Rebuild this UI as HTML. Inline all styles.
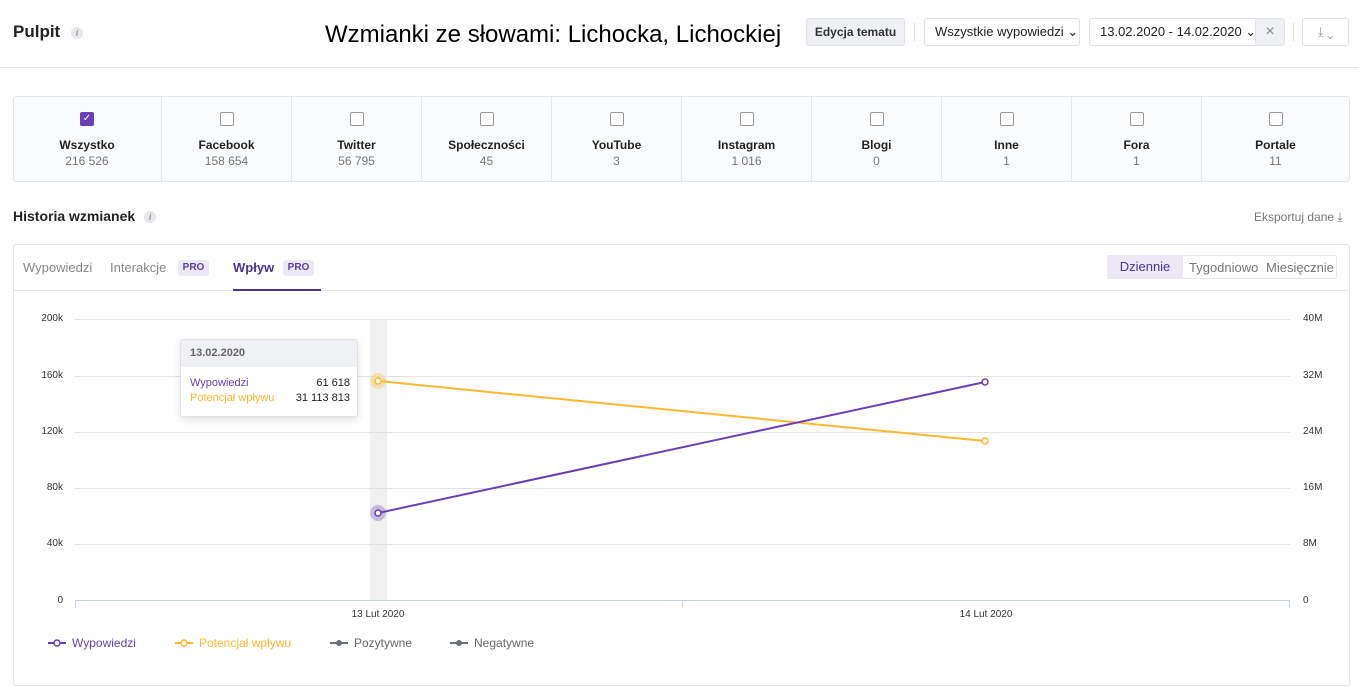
<!DOCTYPE html>
<html><head><meta charset="utf-8"><style>
body{margin:0;width:1359px;height:699px;background:#fff;font-family:"Liberation Sans",sans-serif;position:relative;overflow:hidden;color:#222}
.a{position:absolute}
.btn{position:absolute;border:1px solid #dde0e6;border-radius:3px;font-size:13px;line-height:26px;box-sizing:border-box;height:28px}
.cell{position:absolute;top:97px;height:84px;border-left:1px solid #e3e6ec;text-align:center;box-sizing:border-box}
.cell .cb{width:12px;height:12px;border:1px solid #999;border-radius:2px;margin:15px auto 0;background:#fff}
.cell .t{font-size:12px;font-weight:bold;margin-top:12px;color:#222}
.cell .n{font-size:12px;color:#777;margin-top:2px}
.yl{position:absolute;font-size:10px;color:#333}
.yr{position:absolute;font-size:10px;color:#333;width:30px;text-align:right}
.info{display:inline-block;width:12px;height:12px;border-radius:50%;background:#e6e8ec;color:#999;font-size:9px;text-align:center;line-height:12px;font-style:italic;vertical-align:middle}
</style></head><body>
<div class="a" style="left:13px;top:22px;font-size:17px;font-weight:bold">Pulpit <span class="info" style="margin-left:6px">i</span></div>
<div class="a" style="left:325px;top:21px;font-size:24px;color:#000">Wzmianki ze słowami: Lichocka, Lichockiej</div>
<div class="btn" style="left:806px;top:18px;width:99px;background:#eef0f3;text-align:center;font-weight:bold;color:#333;font-size:12px">Edycja tematu</div>
<div class="a" style="left:914px;top:23px;width:1px;height:18px;background:#ddd"></div>
<div class="btn" style="left:924px;top:18px;width:156px;padding-left:10px;color:#222">Wszystkie wypowiedzi ⌄</div>
<div class="btn" style="left:1089px;top:18px;width:196px;padding-left:10px;color:#222">13.02.2020 - 14.02.2020 ⌄</div>
<div class="btn" style="left:1255px;top:18px;width:30px;background:#eef0f3;text-align:center;color:#888;font-size:16px">×</div>
<div class="a" style="left:1293px;top:23px;width:1px;height:18px;background:#ddd"></div>
<div class="btn" style="left:1302px;top:18px;width:47px;text-align:center;color:#999">⤓ ⌄</div>
<div class="a" style="left:0;top:67px;width:1359px;height:1px;background:#e3e6ec"></div>

<div class="a" style="left:13px;top:96px;width:1335px;height:84px;border:1px solid #e3e6ec;border-radius:3px;background:#fafbfc"></div>
<div class="cell" style="left:13px;width:148px;border-left:none"><div class="cb" style="background:#6a3fb5;border-color:#6a3fb5;color:#fff;font-size:10px;line-height:12px">✓</div><div class="t">Wszystko</div><div class="n">216 526</div></div>
<div class="cell" style="left:161px;width:130px"><div class="cb"></div><div class="t">Facebook</div><div class="n">158 654</div></div>
<div class="cell" style="left:291px;width:130px"><div class="cb"></div><div class="t">Twitter</div><div class="n">56 795</div></div>
<div class="cell" style="left:421px;width:130px"><div class="cb"></div><div class="t">Społeczności</div><div class="n">45</div></div>
<div class="cell" style="left:551px;width:130px"><div class="cb"></div><div class="t">YouTube</div><div class="n">3</div></div>
<div class="cell" style="left:681px;width:130px"><div class="cb"></div><div class="t">Instagram</div><div class="n">1 016</div></div>
<div class="cell" style="left:811px;width:130px"><div class="cb"></div><div class="t">Blogi</div><div class="n">0</div></div>
<div class="cell" style="left:941px;width:130px"><div class="cb"></div><div class="t">Inne</div><div class="n">1</div></div>
<div class="cell" style="left:1071px;width:130px"><div class="cb"></div><div class="t">Fora</div><div class="n">1</div></div>
<div class="cell" style="left:1201px;width:148px"><div class="cb"></div><div class="t">Portale</div><div class="n">11</div></div>

<div class="a" style="left:13px;top:208px;font-size:14px;font-weight:bold">Historia wzmianek <span class="info" style="margin-left:5px">i</span></div>
<div class="a" style="left:1254px;top:210px;font-size:12px;color:#777">Eksportuj dane ⤓</div>

<div class="a" style="left:13px;top:244px;width:1335px;height:440px;border:1px solid #e3e6ec;border-radius:3px"></div>
<div class="a" style="left:14px;top:290px;width:1334px;height:1px;background:#e3e6ec"></div>
<div class="a" style="left:23px;top:260px;font-size:13px;color:#888">Wypowiedzi</div>
<div class="a" style="left:110px;top:260px;font-size:13px;color:#888">Interakcje</div>
<div class="a" style="left:178px;top:260px;width:31px;height:16px;background:#ece8f6;border-radius:3px;font-size:10px;font-weight:bold;color:#5b3fa0;text-align:center;line-height:16px">PRO</div>
<div class="a" style="left:233px;top:260px;font-size:13px;color:#4a3490;font-weight:bold">Wpływ</div>
<div class="a" style="left:283px;top:260px;width:31px;height:16px;background:#ece8f6;border-radius:3px;font-size:10px;font-weight:bold;color:#5b3fa0;text-align:center;line-height:16px">PRO</div>
<div class="a" style="left:233px;top:289px;width:88px;height:2px;background:#4a3490"></div>
<div class="a" style="left:1107px;top:255px;width:230px;height:24px;border:1px solid #e3e6ec;border-radius:3px;box-sizing:border-box"></div>
<div class="a" style="left:1107px;top:255px;width:76px;height:24px;background:#ece8f6;font-size:13px;color:#4a3490;text-align:center;line-height:24px">Dziennie</div>
<div class="a" style="left:1189px;top:260px;font-size:13px;color:#777">Tygodniowo</div>
<div class="a" style="left:1266px;top:260px;font-size:13px;color:#777">Miesięcznie</div>

<svg class="a" style="left:0;top:0" width="1359" height="699">
<rect x="370" y="319" width="17" height="282" fill="#f0f0f0"/>
<g stroke="#e2e2e2" stroke-width="1">
<line x1="75" y1="319.5" x2="1290" y2="319.5"/><line x1="75" y1="376.5" x2="1290" y2="376.5"/><line x1="75" y1="432.5" x2="1290" y2="432.5"/><line x1="75" y1="488.5" x2="1290" y2="488.5"/><line x1="75" y1="544.5" x2="1290" y2="544.5"/>
</g>
<line x1="75" y1="600.5" x2="1290" y2="600.5" stroke="#c8d3e6"/>
<line x1="75.5" y1="600" x2="75.5" y2="608" stroke="#c8d3e6"/><line x1="682.5" y1="600" x2="682.5" y2="608" stroke="#c8d3e6"/><line x1="1289.5" y1="600" x2="1289.5" y2="608" stroke="#c8d3e6"/>
<polyline points="378,381 985,441" fill="none" stroke="#fbb830" stroke-width="2"/>
<polyline points="378,513 985,382" fill="none" stroke="#6a3fb5" stroke-width="2"/>
<circle cx="378" cy="381" r="8" fill="#fbb830" opacity="0.3"/>
<circle cx="378" cy="513" r="8" fill="#6a3fb5" opacity="0.3"/>
<circle cx="378" cy="381" r="3" fill="#fff" stroke="#fbb830" stroke-width="1.5"/>
<circle cx="378" cy="513" r="3" fill="#fff" stroke="#6a3fb5" stroke-width="1.5"/>
<circle cx="985" cy="441" r="3" fill="#fff" stroke="#fbb830" stroke-width="1.5"/>
<circle cx="985" cy="382" r="3" fill="#fff" stroke="#6a3fb5" stroke-width="1.5"/>
<g font-family="Liberation Sans" font-size="10" fill="#333">
<text x="378" y="617" text-anchor="middle">13 Lut 2020</text><text x="986" y="617" text-anchor="middle">14 Lut 2020</text>
</g>
<g font-family="Liberation Sans" font-size="12">
<line x1="48" y1="643" x2="66" y2="643" stroke="#6a3fb5" stroke-width="2"/><circle cx="57" cy="643" r="3" fill="#fff" stroke="#6a3fb5" stroke-width="1.5"/><text x="72" y="647" fill="#6a3fb5">Wypowiedzi</text>
<line x1="175" y1="643" x2="193" y2="643" stroke="#fbb830" stroke-width="2"/><circle cx="184" cy="643" r="3" fill="#fff" stroke="#fbb830" stroke-width="1.5"/><text x="199" y="647" fill="#fbb830">Potencjał wpływu</text>
<line x1="330" y1="643" x2="348" y2="643" stroke="#6b7078" stroke-width="2"/><circle cx="339" cy="643" r="3" fill="#6b7078"/><text x="354" y="647" fill="#666">Pozytywne</text>
<line x1="450" y1="643" x2="468" y2="643" stroke="#6b7078" stroke-width="2"/><circle cx="459" cy="643" r="3" fill="#6b7078"/><text x="474" y="647" fill="#666">Negatywne</text>
</g>
</svg>
<div class="yr" style="left:33px;top:313px">200k</div><div class="yr" style="left:33px;top:370px">160k</div><div class="yr" style="left:33px;top:426px">120k</div><div class="yr" style="left:33px;top:482px">80k</div><div class="yr" style="left:33px;top:538px">40k</div><div class="yr" style="left:33px;top:595px">0</div>
<div class="yl" style="left:1303px;top:313px">40M</div><div class="yl" style="left:1303px;top:370px">32M</div><div class="yl" style="left:1303px;top:426px">24M</div><div class="yl" style="left:1303px;top:482px">16M</div><div class="yl" style="left:1303px;top:538px">8M</div><div class="yl" style="left:1303px;top:595px">0</div>

<div class="a" style="left:180px;top:339px;width:176px;height:76px;background:#fff;border:1px solid #e0e2e6;border-radius:3px;box-shadow:0 3px 8px rgba(0,0,0,0.12);overflow:hidden">
<div style="background:#f0f1f4;height:27px;line-height:27px;padding-left:9px;font-size:11px;font-weight:bold;color:#666">13.02.2020</div>
<div style="position:absolute;left:9px;top:37px;font-size:11px;color:#6a3fb5">Wypowiedzi</div><div style="position:absolute;right:7px;top:37px;font-size:11px;color:#222">61 618</div>
<div style="position:absolute;left:9px;top:52px;font-size:11px;color:#fbb830">Potencjał wpływu</div><div style="position:absolute;right:7px;top:52px;font-size:11px;color:#222">31 113 813</div>
</div>
</body></html>
